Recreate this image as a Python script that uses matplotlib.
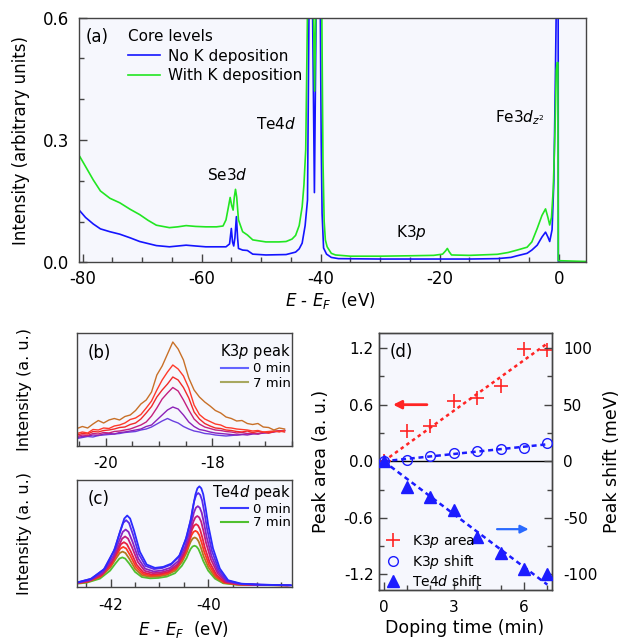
import matplotlib
matplotlib.use('Agg')
import matplotlib.pyplot as plt
from matplotlib.lines import Line2D
from matplotlib.ticker import MultipleLocator, FixedLocator

plt.rcParams['font.family'] = ['DejaVu Sans']
plt.rcParams['axes.unicode_minus'] = False
plt.rcParams['mathtext.fontset'] = 'dejavusans'

W, H = 628, 640
BG = '#f6f7fd'
SPINE = '#444444'

# ---------------- (a) core levels ----------------
a_blue_e = [-80.45, -79.5, -78.2, -77.0, -75.4, -73.75, -72.0, -70.4, -69.0, -67.6, -65.4, -64.0,
            -62.6, -61.0, -59.3, -57.5, -55.9, -55.3, -55.0, -54.8, -54.6, -54.4, -54.15, -53.95,
            -53.8, -53.1, -52.3, -51.4, -49.2, -45.8, -44.2, -43.6, -43.1, -42.6, -42.2, -41.95,
            -41.65, -41.35, -41.04, -40.75, -40.4, -40.05, -39.9, -39.75, -39.5, -39.0, -38.2,
            -37.0, -30.0, -20.0, -15.0, -10.3, -8.0, -6.97, -5.3, -4.5, -3.6, -2.8, -2.2, -1.8,
            -1.5, -1.1, -0.8, -0.55, -0.33, -0.08, -0.05, 4.6]
a_blue_i = [0.126, 0.110, 0.094, 0.082, 0.075, 0.069, 0.060, 0.051, 0.046, 0.041, 0.038, 0.040,
            0.042, 0.040, 0.038, 0.038, 0.038, 0.045, 0.083, 0.050, 0.040, 0.060, 0.112, 0.060,
            0.034, 0.030, 0.029, 0.020, 0.018, 0.019, 0.025, 0.033, 0.047, 0.090, 0.153, 0.62,
            1.50, 0.62, 0.171, 0.62, 1.50, 0.62, 0.30, 0.12, 0.035, 0.020, 0.012,
            0.009, 0.008, 0.008, 0.008, 0.009, 0.012, 0.016, 0.022, 0.030, 0.042, 0.062, 0.074, 0.062,
            0.051, 0.080, 0.200, 0.450, 0.70, 0.70, 0.0, 0.0]

a_green_e = [-80.45, -79.5, -78.2, -77.0, -75.4, -73.75, -72.0, -70.4, -69.0, -67.6, -65.4, -64.0,
             -62.6, -61.0, -59.3, -57.5, -56.4, -55.9, -55.5, -55.2, -54.95, -54.7, -54.5, -54.3,
             -54.1, -53.8, -53.1, -52.3, -51.4, -49.2, -47.0, -45.8, -44.8, -44.2, -43.6, -43.1,
             -42.8, -42.5, -42.2, -41.8, -41.2, -41.0, -40.8, -40.3, -39.8, -39.6, -39.4, -39.2,
             -38.9, -38.2, -37.5, -35.0, -30.0, -25.0, -21.0, -19.5, -19.0, -18.7, -18.4, -18.0,
             -15.0, -10.3, -8.5, -6.97, -5.3, -4.5, -3.6, -2.8, -2.2, -1.8, -1.5, -1.2, -0.9,
             -0.6, -0.4, -0.25, -0.12, -0.06, 4.6]
a_green_i = [0.259, 0.235, 0.202, 0.175, 0.157, 0.146, 0.130, 0.117, 0.103, 0.091, 0.085, 0.087,
             0.090, 0.088, 0.087, 0.087, 0.089, 0.104, 0.135, 0.159, 0.140, 0.128, 0.160, 0.179,
             0.160, 0.104, 0.075, 0.067, 0.055, 0.050, 0.050, 0.051, 0.057, 0.066, 0.090, 0.136,
             0.190, 0.276, 0.62, 1.50, 0.62, 0.42, 0.62, 1.50, 0.62, 0.25, 0.10, 0.055,
             0.038, 0.022, 0.018, 0.015, 0.015, 0.016, 0.017, 0.020, 0.028, 0.034, 0.026, 0.018,
             0.017, 0.0196, 0.024, 0.030, 0.037, 0.050, 0.083, 0.115, 0.131, 0.110, 0.0915, 0.110, 0.180,
             0.330, 0.470, 0.490, 0.490, 0.004, 0.002]

# ---------------- (b) K3p peak ----------------
b_e = [-20.54, -20.44, -20.34, -20.24, -20.14, -20.04, -19.94, -19.84, -19.74, -19.64,
       -19.54, -19.44, -19.34, -19.24, -19.14, -19.04, -18.94, -18.84, -18.74, -18.64,
       -18.54, -18.44, -18.34, -18.24, -18.14, -18.04, -17.94, -17.84, -17.74, -17.64,
       -17.54, -17.44, -17.34, -17.24, -17.14, -17.04, -16.94, -16.84, -16.74, -16.64]
b_i = [
    [7.5, 8.5, 9.5, 9.0, 10.5, 11.0, 11.5, 12.0, 12.5, 13.5, 14.0, 14.5, 16.0, 17.0, 19.0, 22.0, 25.0, 27.5, 25.0, 23.0,
     19.5, 17.0, 15.0, 14.0, 12.5, 12.0, 11.0, 10.5, 10.0, 10.5, 11.0, 11.5, 12.0, 12.5, 12.0, 13.0, 13.5, 14.5, 15.0, 15.5],
    [8.5, 9.5, 10.0, 11.0, 10.5, 12.0, 12.5, 12.0, 13.5, 14.0, 15.0, 16.0, 17.0, 19.5, 21.0, 26.0, 31.0, 36.0, 39.0, 37.0,
     31.0, 24.0, 19.5, 16.5, 15.5, 14.0, 13.0, 12.5, 12.0, 11.5, 11.0, 11.5, 11.0, 12.0, 12.5, 13.0, 14.0, 14.5, 15.0, 15.5],
    [9.5, 11.0, 10.5, 12.5, 12.0, 13.5, 13.0, 14.5, 15.0, 16.0, 17.0, 19.0, 21.0, 24.0, 30.0, 38.0, 47.0, 53.0, 58.5, 55.0,
     46.0, 36.0, 27.0, 22.0, 19.0, 17.5, 16.0, 15.5, 14.5, 14.0, 13.0, 13.5, 12.5, 13.0, 12.0, 13.5, 13.0, 14.0, 15.0, 15.5],
    [11.0, 12.5, 12.0, 14.5, 14.0, 15.5, 16.0, 17.0, 18.5, 19.0, 21.5, 23.0, 27.0, 33.0, 39.5, 49.0, 56.0, 62.0, 69.0, 66.0,
     58.5, 48.0, 34.0, 27.0, 22.5, 20.0, 18.0, 17.5, 16.0, 15.5, 14.5, 14.0, 15.0, 13.5, 14.5, 14.0, 13.0, 14.5, 15.0, 14.0],
    [12.5, 14.0, 13.0, 16.5, 16.0, 18.0, 17.5, 20.0, 21.0, 23.0, 26.5, 28.0, 31.5, 38.0, 45.0, 56.0, 66.0, 74.0, 81.0, 77.0,
     70.0, 58.0, 41.0, 31.5, 27.0, 24.5, 22.0, 21.0, 18.5, 18.0, 17.0, 16.5, 16.0, 15.0, 15.5, 14.0, 14.5, 15.0, 14.0, 15.5],
    [17.5, 19.5, 18.0, 22.0, 25.5, 23.0, 26.0, 27.5, 26.0, 29.5, 31.0, 35.5, 42.0, 46.0, 54.0, 71.0, 80.0, 92.0, 104.0, 97.0,
     86.0, 68.0, 56.0, 49.0, 44.0, 40.0, 35.5, 33.0, 29.0, 27.5, 25.0, 25.5, 22.5, 21.5, 22.5, 19.0, 18.5, 16.0, 18.0, 17.0],
]
b_colors = ['#6a40e0', '#8c22b8', '#c4207e', '#f02a2a', '#ff3a2a', '#c87028']

# ---------------- (c) Te4d peak ----------------
c_e = [-42.70, -42.39, -42.12, -41.91, -41.80, -41.72, -41.66, -41.60, -41.52, -41.40, -41.26,
       -41.09, -40.92, -40.75, -40.58, -40.44, -40.34, -40.30, -40.26, -40.22, -40.18, -40.14,
       -40.10, -40.05, -40.00, -39.90, -39.76, -39.59, -39.32, -38.91, -38.29]
c_i = [
    [4.3, 8.3, 18.3, 38.3, 56, 68, 71, 68, 56, 35, 22.3, 19, 20, 23.3, 31.7, 50, 70, 82, 92, 98, 100, 98, 92, 78, 62, 38.3, 18.3, 6.7, 3.3, 2.3, 1.7],
    [4.1, 7.9, 17.2, 35.8, 52.4, 63.6, 66.4, 63.6, 52.4, 32.8, 20.9, 17.8, 18.8, 21.9, 29.7, 46.8, 65.4, 76.6, 85.9, 91.5, 93.4, 91.5, 85.9, 72.9, 58.0, 35.8, 17.2, 6.4, 3.2, 2.3, 1.7],
    [3.8, 7.0, 15.0, 31.0, 45.1, 54.7, 57.1, 54.7, 45.1, 28.3, 18.2, 15.5, 16.3, 19.0, 25.7, 40.3, 56.3, 65.9, 73.9, 78.7, 80.3, 78.7, 73.9, 62.7, 49.9, 31.0, 15.0, 5.7, 3.0, 2.2, 1.7],
    [3.5, 6.3, 13.3, 27.3, 39.7, 48.1, 50.2, 48.1, 39.7, 25.0, 16.1, 13.8, 14.5, 16.8, 22.7, 35.5, 49.5, 57.9, 64.9, 69.1, 70.5, 69.1, 64.9, 55.1, 43.9, 27.3, 13.3, 5.2, 2.8, 2.1, 1.7],
    [3.3, 5.8, 11.9, 24.3, 35.2, 42.6, 44.5, 42.6, 35.2, 22.2, 14.4, 12.4, 13.0, 15.0, 20.2, 31.5, 43.8, 51.2, 57.4, 61.1, 62.4, 61.1, 57.4, 48.8, 38.9, 24.3, 11.9, 4.8, 2.7, 2.1, 1.7],
    [3.1, 5.3, 10.8, 21.8, 31.6, 38.2, 39.8, 38.2, 31.6, 20.0, 13.0, 11.2, 11.8, 13.6, 18.2, 28.3, 39.3, 45.9, 51.4, 54.7, 55.8, 54.7, 51.4, 43.7, 34.9, 21.8, 10.8, 4.5, 2.6, 2.0, 1.7],
    [3.0, 4.9, 9.7, 19.4, 27.9, 33.7, 35.2, 33.7, 27.9, 17.8, 11.6, 10.1, 10.5, 12.1, 16.2, 25.0, 34.7, 40.5, 45.3, 48.2, 49.2, 48.2, 45.3, 38.6, 30.8, 19.4, 9.7, 4.1, 2.5, 2.0, 1.7],
    [2.7, 4.3, 8.3, 16.3, 23.4, 28.2, 29.4, 28.2, 23.4, 15.0, 9.9, 8.6, 9.0, 10.3, 13.7, 21.0, 29.0, 33.8, 37.8, 40.2, 41.0, 40.2, 37.8, 32.2, 25.8, 16.3, 8.3, 3.7, 2.3, 1.9, 1.7],
]
c_colors = ['#2a2aff', '#5a2ae8', '#8a22c0', '#c01c80', '#e82040', '#ff3a20', '#b07a20', '#50c030']

# ---------------- (d) doping dependence ----------------
d_time = [0, 1, 2, 3, 4, 5, 6, 7]
d_k3p_area = [0.0, 0.32, 0.37, 0.64, 0.67, 0.80, 1.19, 1.18]
d_k3p_shift = [0.0, 1.5, 4.4, 7.7, 9.0, 10.6, 12.0, 16.0]
d_te4d_shift = [0.0, -23, -32, -43, -67, -81, -95, -100]
d_fit_time = [0, 7]
d_fit_area = [0.0, 1.25]
d_fit_k3p = [0.0, 15.0]
d_fit_te4d = [0.0, -109.0]

RED = '#ff2424'
BLUE = '#1c1cff'


def rect(l, t, r, b):
    return [l / W, 1 - b / H, (r - l) / W, (b - t) / H]


def style(ax):
    ax.set_facecolor(BG)
    for s in ax.spines.values():
        s.set_color(SPINE)
        s.set_linewidth(1.0)
    ax.tick_params(which='both', direction='in', color=SPINE, width=1.0)
    ax.tick_params(which='major', length=6)
    ax.tick_params(which='minor', length=3.5)


def ftext(px, py, s, **kw):
    fig.text(px / W, 1 - py / H, s, **kw)


fig = plt.figure(figsize=(W / 100, H / 100), dpi=100)

# ---- (a)
axa = fig.add_axes(rect(79, 17.7, 586, 262.3))
style(axa)
axa.plot(a_blue_e, a_blue_i, color='#1414ff', lw=1.2, label='No K deposition')
axa.plot(a_green_e, a_green_i, color='#22e622', lw=1.2, label='With K deposition')
axa.set_xlim(-80.6, 4.6)
axa.set_ylim(0, 0.6)
axa.xaxis.set_major_locator(FixedLocator([-80, -60, -40, -20, 0]))
axa.xaxis.set_minor_locator(MultipleLocator(5))
axa.set_yticks([0, 0.3, 0.6])
axa.set_yticklabels(['0.0', '0.3', '0.6'])
axa.yaxis.set_minor_locator(MultipleLocator(0.1))
axa.tick_params(axis='y', labelsize=12, pad=7)
axa.tick_params(axis='x', labelsize=12, pad=5.5)
axa.set_xlabel(r'$E$ - $E_F$  (eV)', fontsize=12)
axa.xaxis.set_label_coords(0.495, -0.115)
axa.set_ylabel('Intensity (arbitrary units)', fontsize=12)
axa.yaxis.set_label_coords(-0.097, 0.5)
leg = axa.legend(title='Core levels', loc='upper left', bbox_to_anchor=(128 / W, 1 - 29 / H),
                 bbox_transform=fig.transFigure, frameon=False, fontsize=11, title_fontsize=11,
                 alignment='left', borderpad=0, borderaxespad=0, labelspacing=0.3,
                 handlelength=2.1, handletextpad=0.5)
ftext(86, 37, '(a)', fontsize=12, va='center', ha='left')
ftext(276, 124, r'Te4$d$', fontsize=11, va='center', ha='center')
ftext(227, 175, r'Se3$d$', fontsize=11, va='center', ha='center')
ftext(411, 233, r'K3$p$', fontsize=11, va='center', ha='center')
ftext(520, 118, r'Fe3$d_{z^2}$', fontsize=11, va='center', ha='center')

# ---- (b)
axb = fig.add_axes(rect(76.5, 332.7, 292, 446))
style(axb)
for i, c in zip(b_i, b_colors):
    axb.plot(b_e, i, color=c, lw=1.0)
axb.set_xlim(-20.55, -16.5)
axb.set_ylim(0, 113.3)
axb.set_yticks([])
axb.xaxis.set_major_locator(FixedLocator([-20, -18]))
axb.xaxis.set_minor_locator(MultipleLocator(0.5))
axb.tick_params(labelsize=11, pad=7)
axb.set_ylabel('Intensity (a. u.)', fontsize=11.5)
axb.yaxis.set_label_coords(-0.206, 0.5)
hb = [Line2D([], [], color='#6464ff', lw=1.5), Line2D([], [], color='#a8a860', lw=1.5)]
axb.legend(hb, ['0 min', '7 min'], title=r'K3$p$ peak', loc='upper right',
           bbox_to_anchor=(291 / W, 1 - 342 / H), bbox_transform=fig.transFigure,
           frameon=False, fontsize=9.5, title_fontsize=10.5, alignment='right',
           borderpad=0, borderaxespad=0, labelspacing=0.1, handlelength=2.0, handletextpad=0.4)
ftext(88, 353, '(b)', fontsize=12, va='center', ha='left')

# ---- (c)
axc = fig.add_axes(rect(76.5, 480.3, 292, 587))
style(axc)
for k in range(len(c_i) - 1, -1, -1):
    shift = d_te4d_shift[k] / 1000.0
    axc.plot([e + shift for e in c_e], c_i[k], color=c_colors[k], lw=1.3)
axc.set_xlim(-42.7, -38.28)
axc.set_ylim(0, 106)
axc.set_yticks([])
axc.xaxis.set_major_locator(FixedLocator([-42, -40]))
axc.xaxis.set_minor_locator(MultipleLocator(0.5))
axc.tick_params(labelsize=11, pad=8)
axc.set_ylabel('Intensity (a. u.)', fontsize=11.5)
axc.yaxis.set_label_coords(-0.206, 0.5)
axc.set_xlabel(r'$E$ - $E_F$  (eV)', fontsize=12)
axc.xaxis.set_label_coords(0.494, -0.30)
hc = [Line2D([], [], color='#3a3aff', lw=1.5), Line2D([], [], color='#50c030', lw=1.5)]
axc.legend(hc, ['0 min', '7 min'], title=r'Te4$d$ peak', loc='upper right',
           bbox_to_anchor=(291 / W, 1 - 483 / H), bbox_transform=fig.transFigure,
           frameon=False, fontsize=9.5, title_fontsize=10.5, alignment='right',
           borderpad=0, borderaxespad=0, labelspacing=0.05, handlelength=2.0, handletextpad=0.4)
ftext(88, 499, '(c)', fontsize=12, va='center', ha='left')

# ---- (d)
axd = fig.add_axes(rect(379, 333, 552, 590))
style(axd)
axr = axd.twinx()
style(axr)
axd.set_xlim(-0.2, 7.2)
axd.set_ylim(-1.365, 1.36)
axr.set_ylim(-1.365 * 250 / 3, 1.36 * 250 / 3)
axd.axhline(0, color='k', lw=1.0, zorder=1)
axd.plot(d_fit_time, d_fit_area, color=RED, lw=1.8, dashes=(1.4, 1.4), zorder=2)
axd.plot(d_time, d_k3p_area, ls='none', marker='+', ms=10, mew=1.2, color=RED, zorder=3)
axr.plot(d_fit_time, d_fit_k3p, color=BLUE, lw=1.8, dashes=(2.0, 1.5), zorder=2)
axr.plot(d_fit_time, d_fit_te4d, color=BLUE, lw=1.8, dashes=(2.0, 1.5), zorder=2)
axr.plot(d_time, d_k3p_shift, ls='none', marker='o', ms=7, mfc='none', mec=BLUE, mew=1.0, zorder=3)
axr.plot(d_time, d_te4d_shift, ls='none', marker='^', ms=9, color=BLUE, zorder=3)
axd.xaxis.set_major_locator(FixedLocator([0, 3, 6]))
axd.xaxis.set_minor_locator(MultipleLocator(1))
axd.set_yticks([-1.2, -0.6, 0, 0.6, 1.2])
axd.set_yticklabels(['-1.2', '-0.6', '0.0', '0.6', '1.2'])
axd.yaxis.set_minor_locator(MultipleLocator(0.3))
axr.set_yticks([-100, -50, 0, 50, 100])
axr.yaxis.set_minor_locator(MultipleLocator(25))
axd.tick_params(axis='x', labelsize=11, pad=7)
axd.tick_params(axis='y', labelsize=11, pad=4)
axr.tick_params(axis='y', labelsize=11, pad=8)
axd.set_xlabel('Doping time (min)', fontsize=12.5)
axd.xaxis.set_label_coords(0.497, -0.113)
axd.set_ylabel('Peak area (a. u.)', fontsize=12.5)
axd.yaxis.set_label_coords(-0.283, 0.5)
axr.set_ylabel('Peak shift (meV)', fontsize=12.5)
axr.yaxis.set_label_coords(1.295, 0.5)
axd.annotate('', xy=(0.4, 0.6), xytext=(1.85, 0.6),
             arrowprops=dict(arrowstyle='-|>', color=RED, lw=2, mutation_scale=12, shrinkA=0, shrinkB=0))
axd.annotate('', xy=(6.2, -0.72), xytext=(4.85, -0.72),
             arrowprops=dict(arrowstyle='-|>', color='#2a6aff', lw=1.6, mutation_scale=12, shrinkA=0, shrinkB=0))
hd = [Line2D([], [], ls='none', marker='+', ms=10, mew=1.2, color=RED),
      Line2D([], [], ls='none', marker='o', ms=7, mfc='none', mec=BLUE, mew=1.0),
      Line2D([], [], ls='none', marker='^', ms=9, color=BLUE)]
axr.legend(hd, [r'K3$p$ area', r'K3$p$ shift', r'Te4$d$ shift'], loc='upper left',
           bbox_to_anchor=(386 / W, 1 - 533 / H), bbox_transform=fig.transFigure,
           frameon=False, fontsize=10, borderpad=0, borderaxespad=0, labelspacing=0.2,
           handlelength=1.0, handletextpad=0.9)
ftext(390, 352, '(d)', fontsize=12, va='center', ha='left')

fig.savefig('out.png', dpi=100)
